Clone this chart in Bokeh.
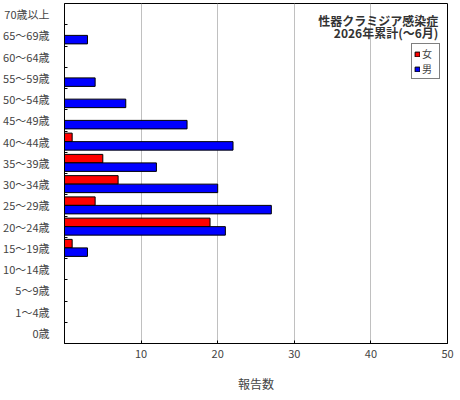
from bokeh.plotting import figure
from bokeh.models import (ColumnDataSource, FixedTicker, Label, Legend, LegendItem)
from bokeh.transform import dodge
from bokeh.embed import file_html
from bokeh.resources import INLINE

# Data (bottom -> top)
ages = ["0歳", "1～4歳", "5～9歳", "10～14歳", "15～19歳", "20～24歳", "25～29歳",
        "30～34歳", "35～39歳", "40～44歳", "45～49歳", "50～54歳", "55～59歳",
        "60～64歳", "65～69歳", "70歳以上"]
female = [0, 0, 0, 0, 1, 19, 4, 7, 5, 1, 0, 0, 0, 0, 0, 0]
male = [0, 0, 0, 0, 3, 21, 27, 20, 12, 22, 16, 8, 4, 0, 3, 0]
x_ticks = [10, 20, 30, 40, 50]
title_lines = ["性器クラミジア感染症", "2026年累計(～6月)"]
series_names = ["女", "男"]

FONT = "Noto Sans CJK JP"

def make_source(vals):
    pos = [i + 0.5 for i, v in enumerate(vals) if v > 0]
    vv = [v for v in vals if v > 0]
    return ColumnDataSource(dict(y=pos, v=vv))

src_f = make_source(female)
src_m = make_source(male)

p = figure(width=460, height=400, x_range=(0, 50), y_range=(0, len(ages)),
           output_backend="svg", toolbar_location=None,
           min_border_left=63, min_border_right=13, min_border_top=3,
           min_border_bottom=57)

rf = p.hbar(y=dodge("y", 0.2), right="v", left=0, height=0.4, source=src_f,
            fill_color="#ff0000", line_color="black", line_width=1)
rm = p.hbar(y=dodge("y", -0.2), right="v", left=0, height=0.4, source=src_m,
            fill_color="#0000ff", line_color="black", line_width=1)

# Axes
p.xaxis.ticker = FixedTicker(ticks=x_ticks)
p.xaxis.axis_label = "報告数"
p.xaxis.axis_label_text_font = FONT
p.xaxis.axis_label_text_font_style = "normal"
p.xaxis.axis_label_text_font_size = "12px"
p.xaxis.axis_label_standoff = 14
p.xaxis.major_label_text_font = FONT
p.xaxis.major_label_text_font_size = "11px"
p.xaxis.major_label_standoff = 6
p.xaxis.major_tick_in = 3
p.xaxis.major_tick_out = 0
p.xaxis.minor_tick_line_color = None
p.xaxis.axis_line_color = "black"

centers = [i + 0.5 for i in range(len(ages))]
bounds = [float(i) for i in range(1, len(ages))]
p.yaxis.ticker = FixedTicker(ticks=centers, minor_ticks=bounds)
p.yaxis.major_label_overrides = {c: a for c, a in zip(centers, ages)}
p.yaxis.major_tick_line_color = None
p.yaxis.minor_tick_in = 3
p.yaxis.minor_tick_out = 0
p.yaxis.minor_tick_line_color = "black"
p.yaxis.major_label_text_font = FONT
p.yaxis.major_label_text_font_size = "11px"
p.yaxis.major_label_standoff = 9
p.yaxis.axis_line_color = "black"

p.xgrid.grid_line_color = "#c0c0c0"
p.ygrid.grid_line_color = None
p.outline_line_color = "black"
p.outline_line_alpha = 1
p.background_fill_color = "white"
p.border_fill_color = "white"

# Title inside plot (top right)
for txt, yy in zip(title_lines, [15.22, 14.62]):
    p.add_layout(Label(x=48.8, y=yy, text=txt, text_align="right",
                       text_baseline="middle", text_font=FONT,
                       text_font_size="12px", text_font_style="bold",
                       text_color="#333333"))

legend = Legend(items=[LegendItem(label=series_names[0], renderers=[rf]),
                       LegendItem(label=series_names[1], renderers=[rm])],
                location=(347, 264))
legend.glyph_width = 6
legend.glyph_height = 6
legend.label_height = 12
legend.label_width = 15
legend.label_standoff = 2
legend.spacing = 0
legend.padding = 2
legend.margin = 0
legend.label_text_font = FONT
legend.label_text_font_size = "10px"
legend.border_line_color = "black"
legend.border_line_width = 1
legend.background_fill_alpha = 1
p.add_layout(legend, "center")

open("out.html", "w").write(file_html(p, INLINE))
